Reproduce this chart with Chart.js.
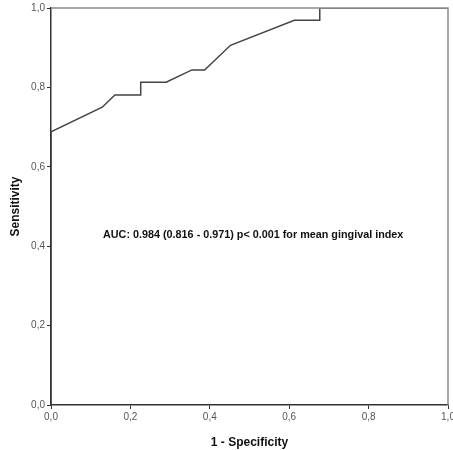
<!DOCTYPE html>
<html>
<head>
<meta charset="utf-8">
<script src="https://cdn.jsdelivr.net/npm/chart.js@4/dist/chart.umd.min.js"></script>
<style>
  html, body { margin: 0; padding: 0; background: #fff; }
  #wrap { width: 453px; height: 450px; }
</style>
</head>
<body>
<div id="wrap"><canvas id="roc"></canvas></div>
<script>
// ROC curve points
const fpr = [0, 0, 0.129, 0.161, 0.226, 0.226, 0.290, 0.355, 0.387, 0.452, 0.613, 0.677, 0.677, 1.0];
const tpr = [0, 0.688, 0.750, 0.781, 0.781, 0.813, 0.813, 0.844, 0.844, 0.906, 0.969, 0.969, 1.0, 1.0];
const tickValues = [0, 0.2, 0.4, 0.6, 0.8, 1.0];
const aucNote = 'AUC: 0.984 (0.816 - 0.971) p< 0.001 for mean gingival index';
const notePos = { x: 0.131, y: 0.428 };

const points = fpr.map((x, i) => ({ x: x, y: tpr[i] }));
const fmt = v => v.toFixed(1).replace('.', ',');

// box round the plot + AUC text
const frameAndNote = {
    id: 'frameAndNote',
    afterDatasetsDraw(chart) {
        const { ctx, chartArea: a, scales } = chart;
        ctx.save();
        ctx.strokeStyle = '#8a8a8a';
        ctx.lineWidth = 1.5;
        ctx.beginPath();
        ctx.moveTo(a.left, a.top);
        ctx.lineTo(a.right, a.top);
        ctx.lineTo(a.right, a.bottom);
        ctx.stroke();

        ctx.fillStyle = '#111';
        ctx.font = 'bold 10.8px "Liberation Sans", Arial, sans-serif';
        ctx.textBaseline = 'middle';
        ctx.fillText(aucNote, scales.x.getPixelForValue(notePos.x), scales.y.getPixelForValue(notePos.y));
        ctx.restore();
    }
};

const axisCommon = {
    type: 'linear',
    min: 0,
    max: 1,
    grid: { display: true, drawOnChartArea: false, drawTicks: true, tickLength: 4, color: '#333', lineWidth: 1 },
    border: { display: true, color: '#333', width: 1.5 },
    ticks: {
        stepSize: 0.2,
        color: '#555',
        font: { family: '"Liberation Sans", Arial, sans-serif', size: 10 },
        padding: 2,
        callback: v => fmt(v)
    },
    afterBuildTicks: s => { s.ticks = tickValues.map(v => ({ value: v })); }
};

new Chart(document.getElementById('roc'), {
    type: 'scatter',
    data: {
        datasets: [{
            data: points,
            showLine: true,
            borderColor: '#444',
            borderWidth: 1.5,
            pointRadius: 0,
            tension: 0
        }]
    },
    options: {
        responsive: true,
        maintainAspectRatio: false,
        animation: false,
        layout: { padding: { top: 8, right: 5, left: 0, bottom: 0 } },
        plugins: { legend: { display: false }, tooltip: { enabled: false } },
        scales: {
            x: Object.assign({}, axisCommon, {
                title: {
                    display: true, text: '1 - Specificity', color: '#111',
                    font: { family: '"Liberation Sans", Arial, sans-serif', size: 12, weight: 'bold' },
                    padding: { top: 10, bottom: 0 }
                },
                afterFit: s => { s.height = 45; s.paddingLeft = 0; s.paddingRight = 0; }
            }),
            y: Object.assign({}, axisCommon, {
                title: {
                    display: true, text: 'Sensitivity', color: '#111',
                    font: { family: '"Liberation Sans", Arial, sans-serif', size: 12, weight: 'bold' },
                    padding: { top: 8, bottom: 0 }
                },
                afterFit: s => { s.width = 51; s.paddingTop = 0; s.paddingBottom = 0; }
            })
        }
    },
    plugins: [frameAndNote]
});
</script>
</body>
</html>
